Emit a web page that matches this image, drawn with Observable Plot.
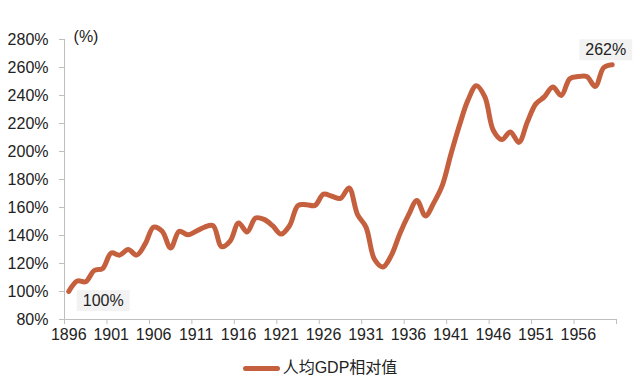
<!DOCTYPE html>
<html>
<head>
<meta charset="utf-8">
<script src="https://cdn.jsdelivr.net/npm/d3@7"></script>
<script src="https://cdn.jsdelivr.net/npm/@observablehq/plot@0.6"></script>
<style>
  html, body { margin: 0; padding: 0; background: #fff; }
  body { width: 640px; height: 391px; overflow: hidden;
         font-family: "Liberation Sans", Arial, "Noto Sans CJK SC", sans-serif; }
  .legend { display: flex; justify-content: center; align-items: center;
            font-size: 16px; line-height: 20px; color: #222; margin-top: 8px; }
  .legend .sw { display: inline-block; width: 37px; height: 5px; border-radius: 3px;
                background: #c5603f; margin-right: 3px; }
</style>
</head>
<body>
<div id="chart"></div>
<script>
// Categories (years)
const years = [1896,1897,1898,1899,1900,1901,1902,1903,1904,1905,
               1906,1907,1908,1909,1910,1911,1912,1913,1914,1915,
               1916,1917,1918,1919,1920,1921,1922,1923,1924,1925,
               1926,1927,1928,1929,1930,1931,1932,1933,1934,1935,
               1936,1937,1938,1939,1940,1941,1942,1943,1944,1945,
               1946,1947,1948,1949,1950,1951,1952,1953,1954,1955,
               1956,1957,1958,1959,1960];
// 人均GDP相对值 (%)
const values = [100,107.5,107,115,116.5,127.5,126,130,126,134,
                146,143,131,143,140.5,143,146,147,132,136,
                149,142.5,152.5,151.5,147,141,147,161.5,162,161.5,
                169.5,168,166.5,174,155,146,123,117.5,126,141.5,
                154.5,165,154,163.5,176,198,218.5,236.5,247,239,
                215,208.5,214,206.5,221,234,239,246,240,252,
                253.5,253.5,246.5,260,262];
const yTicks = [80,100,120,140,160,180,200,220,240,260,280];
const xTickLabels = [1896,1901,1906,1911,1916,1921,1926,1931,1936,1941,1946,1951,1956];
const xTickMarks = [1895.5,1900.5,1905.5,1910.5,1915.5,1920.5,1925.5,1930.5,1935.5,1940.5,1945.5,1950.5,1955.5,1960.5];
const seriesName = "人均GDP相对值";
const unitLabel = "(%)";
const startNote = [{year: 1896, value: 100, label: "100%"}];
const endNote = [{year: 1960, value: 262, label: "262%"}];

const data = years.map((year, i) => ({year, value: values[i]}));
const lineColor = "#c5603f";
const axisColor = "#bfbfbf";

const plot = Plot.plot({
  width: 640,
  height: 350,
  marginTop: 39,
  marginBottom: 31,
  marginLeft: 64,
  marginRight: 24,
  style: {fontFamily: "'Liberation Sans', Arial, sans-serif", fontSize: "16px", color: "#222", background: "#fff"},
  x: {domain: [1895.5, 1960.5], label: null},
  y: {domain: [80, 280], label: null},
  marks: [
    Plot.ruleX([1895.5], {stroke: axisColor}),
    Plot.ruleY([80], {stroke: axisColor}),
    Plot.axisY({ticks: yTicks, tickFormat: d => d + "%", tickSize: 5, tickPadding: 11, stroke: axisColor, label: null}),
    Plot.axisX({ticks: xTickMarks, tickFormat: () => "", tickSize: 5, stroke: axisColor, label: null}),
    Plot.axisX({ticks: xTickLabels, tickFormat: d => String(d), tickSize: 0, tickPadding: 9, label: null}),
    Plot.line(data, {x: "year", y: "value", stroke: lineColor, strokeWidth: 5, curve: "catmull-rom", strokeLinecap: "round", strokeLinejoin: "round"}),
    Plot.text([unitLabel], {frameAnchor: "top-left", dx: 21.5, dy: -2.5, textAnchor: "middle", lineAnchor: "middle", fill: "#222"}),
    Plot.text(startNote, {x: "year", y: "value", text: "label", dx: 34.5, dy: 9.5, textAnchor: "middle", lineAnchor: "middle", fill: "#222", className: "anno"}),
    Plot.text(endNote, {x: "year", y: "value", text: "label", dx: -6.5, dy: -14.6, textAnchor: "middle", lineAnchor: "middle", fill: "#222", className: "anno"})
  ]
});

document.getElementById("chart").appendChild(plot);

// light grey boxes behind the data labels
plot.querySelectorAll(".anno text").forEach(t => {
  const b = t.getBBox();
  const r = document.createElementNS("http://www.w3.org/2000/svg", "rect");
  r.setAttribute("x", b.x - 6);
  r.setAttribute("y", b.y - 2);
  r.setAttribute("width", b.width + 12);
  r.setAttribute("height", b.height + 4);
  r.setAttribute("fill", "#f2f2f2");
  r.setAttribute("stroke", "none");
  const tr = t.getAttribute("transform");
  if (tr) r.setAttribute("transform", tr);
  t.parentNode.insertBefore(r, t);
});

const legend = document.createElement("div");
legend.className = "legend";
legend.innerHTML = '<span class="sw"></span><span>' + seriesName + '</span>';
document.getElementById("chart").appendChild(legend);
</script>
</body>
</html>
